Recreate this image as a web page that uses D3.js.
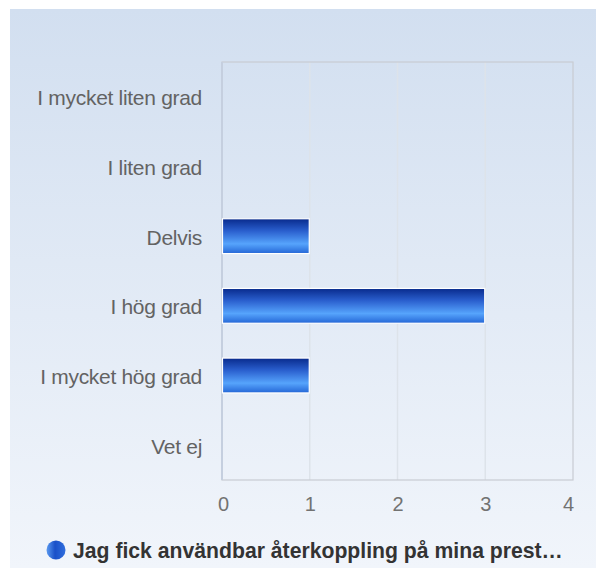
<!DOCTYPE html>
<html><head><meta charset="utf-8">
<script src="https://cdn.jsdelivr.net/npm/d3@7"></script>
<style>body{margin:0;background:#fff;}svg{display:block;font-family:"Liberation Sans",Arial,sans-serif;}</style>
</head><body>
<svg id="c" width="596" height="568"></svg>
<script>
const categories = ["I mycket liten grad","I liten grad","Delvis","I hög grad","I mycket hög grad","Vet ej"];
const values = [0,0,1,3,1,0];
const xTicks = [0,1,2,3,4];
const seriesName = "Jag fick användbar återkoppling på mina prest…";

(function(){
const svg = d3.select("#c");
const defs = svg.append("defs");
const bg = defs.append("linearGradient").attr("id","bg").attr("x1",0).attr("y1",0).attr("x2",0).attr("y2",1);
bg.append("stop").attr("offset","0%").attr("stop-color","#d2dff0");
bg.append("stop").attr("offset","100%").attr("stop-color","#f1f5fb");
const bar = defs.append("linearGradient").attr("id","bar").attr("x1",0).attr("y1",0).attr("x2",0).attr("y2",1);
bar.append("stop").attr("offset","0%").attr("stop-color","#082a8c");
bar.append("stop").attr("offset","35%").attr("stop-color","#2a5fce");
bar.append("stop").attr("offset","72%").attr("stop-color","#56a4fc");
bar.append("stop").attr("offset","100%").attr("stop-color","#2466d6");
const leg = defs.append("linearGradient").attr("id","leg").attr("x1",0).attr("y1",0).attr("x2",1).attr("y2",0);
leg.append("stop").attr("offset","0%").attr("stop-color","#5a9af0");
leg.append("stop").attr("offset","45%").attr("stop-color","#1a50c8");
leg.append("stop").attr("offset","100%").attr("stop-color","#2f6ede");

svg.append("rect").attr("x",10).attr("y",9).attr("width",586).attr("height",559).attr("fill","url(#bg)");

const pl = 222, pr = 573, pt = 62, pb = 480;
const x = d3.scaleLinear().domain([0,4]).range([pl,pr]);
const y = d3.scaleBand().domain(categories).range([pt,pb]).paddingInner(0.5).paddingOuter(0.25);

svg.append("g").selectAll("line").data(xTicks.slice(1,-1)).join("line")
  .attr("x1",d=>x(d)).attr("x2",d=>x(d)).attr("y1",pt).attr("y2",pb)
  .attr("stroke","#dde3ea").attr("stroke-width",1.5);
svg.append("rect").attr("x",pl).attr("y",pt).attr("width",pr-pl).attr("height",pb-pt)
  .attr("fill","none").attr("stroke","#c9ccd2").attr("stroke-width",1.2);
svg.append("line").attr("x1",pl).attr("x2",pl).attr("y1",pt).attr("y2",pb).attr("stroke","#c5cfdf").attr("stroke-width",2);

svg.append("g").selectAll("rect").data(categories.map((c,i)=>({c,v:values[i]})).filter(d=>d.v>0)).join("rect")
  .attr("x",x(0)+0.5).attr("y",d=>y(d.c)).attr("width",d=>x(d.v)-x(0)-1).attr("height",y.bandwidth())
  .attr("fill","url(#bar)").attr("stroke","#ffffff").attr("stroke-width",1.2);

const xa = svg.append("g").attr("transform",`translate(0,${pb})`).call(d3.axisBottom(x).tickValues(xTicks).tickFormat(d3.format("d")).tickSize(0).tickPadding(17));
xa.select(".domain").remove();
xa.selectAll("text").attr("font-size",20).attr("fill","#727272").attr("font-family","Liberation Sans, Arial, sans-serif")
  .attr("dx",d=>d===4?-5:(d===0?1:0));

const ya = svg.append("g").attr("transform",`translate(${pl},0)`).call(d3.axisLeft(y).tickSize(0).tickPadding(20));
ya.select(".domain").remove();
ya.selectAll("text").attr("font-size",21).attr("fill","#636363").attr("letter-spacing","-0.3px").attr("font-family","Liberation Sans, Arial, sans-serif")
  .attr("dy","0.4em");

svg.append("circle").attr("cx",56).attr("cy",550).attr("r",9.5).attr("fill","url(#leg)");
svg.append("text").attr("x",73).attr("y",558).attr("font-size",21.2).attr("font-weight","bold").attr("fill","#333").text(seriesName);
})();
</script>
</body></html>
